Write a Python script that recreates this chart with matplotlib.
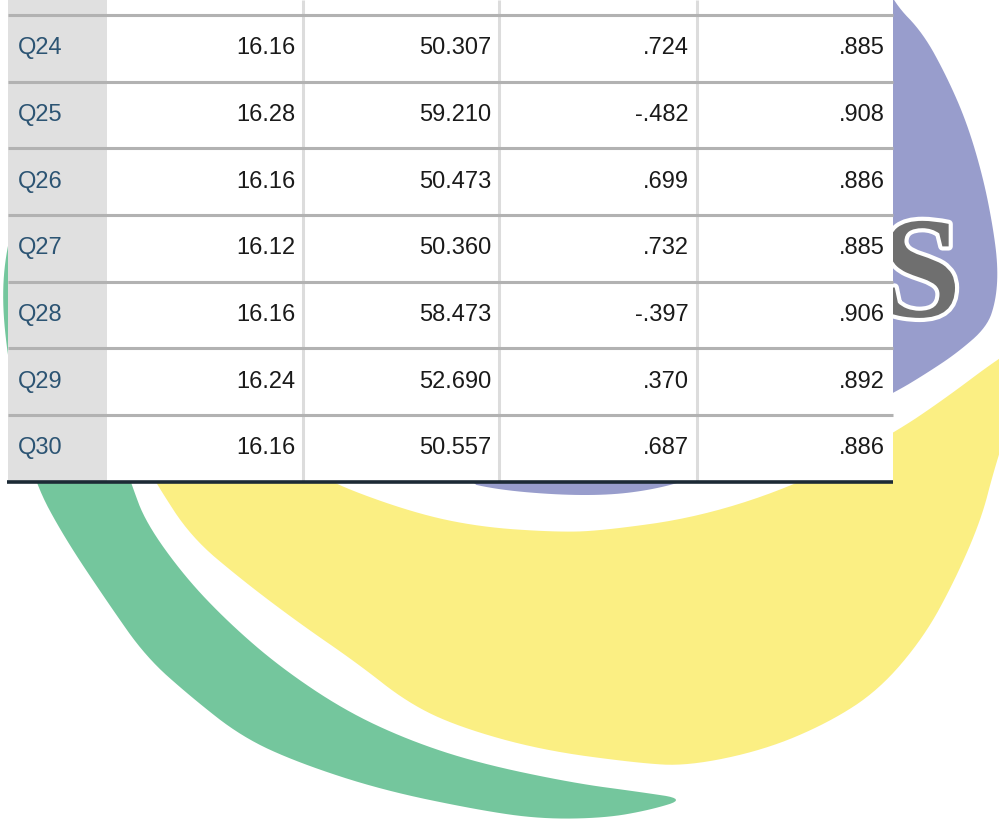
import matplotlib
matplotlib.use("Agg")
import matplotlib.pyplot as plt
from matplotlib.patches import Polygon, Rectangle
import matplotlib.patheffects as pe
import numpy as np

# ---- data ----
rows = ["Q24", "Q25", "Q26", "Q27", "Q28", "Q29", "Q30"]
col_mean = [16.16, 16.28, 16.16, 16.12, 16.16, 16.24, 16.16]
col_var = [50.307, 59.210, 50.473, 50.360, 58.473, 52.690, 50.557]
col_corr = [.724, -.482, .699, .732, -.397, .370, .687]
col_alpha = [.885, .908, .886, .885, .906, .892, .886]

def fmt_trim(v):
    s = f"{v:.3f}"
    return s.replace("0.", ".", 1)

columns = [
    [f"{v:.2f}" for v in col_mean],
    [f"{v:.3f}" for v in col_var],
    [fmt_trim(v) for v in col_corr],
    [fmt_trim(v) for v in col_alpha],
]

# ---- layout ----
W, H = 999, 822
fig = plt.figure(figsize=(W / 100, H / 100), dpi=100)
ax = fig.add_axes([0, 0, 1, 1])
ax.set_xlim(0, W)
ax.set_ylim(H, 0)
ax.axis("off")

def smooth(pts, iters=3):
    p = np.asarray(pts, float)
    for _ in range(iters):
        q = np.roll(p, -1, axis=0)
        a = 0.75 * p + 0.25 * q
        b = 0.25 * p + 0.75 * q
        p = np.empty((2 * len(a), 2))
        p[0::2] = a
        p[1::2] = b
    return p

# background logo shapes (decoration)
purple = [(880, -30), (894, 3), (923, 33), (947, 77), (967, 123), (983, 177), (993, 227),
          (998, 267), (996, 300), (987, 327), (957, 353), (927, 373), (894, 393),
          (800, 440), (686, 481), (650, 490), (610, 495), (560, 495), (500, 490),
          (458, 481), (450, 300), (700, -30)]
yellow = [(150, 470), (156, 483), (191, 537), (242, 580), (299, 623), (357, 663), (408, 703),
          (459, 727), (541, 750), (637, 763), (688, 766), (764, 750), (828, 723), (879, 690),
          (924, 637), (955, 580), (981, 520), (994, 470), (1010, 420), (1030, 340),
          (999, 358), (943, 400), (894, 433), (802, 483), (700, 517), (600, 531), (554, 532),
          (480, 527), (414, 513), (331, 483), (320, 470)]
green = [(60, 150), (20, 200), (6, 250), (2, 300), (8, 360), (20, 420), (35, 483), (64, 537),
         (108, 603), (146, 657), (191, 697), (242, 737), (299, 763), (382, 790), (478, 810),
         (541, 819), (605, 818), (650, 810), (686, 799), (640, 792), (573, 783), (478, 763),
         (408, 740), (344, 710), (280, 667), (229, 623), (185, 577), (146, 523), (131, 483),
         (110, 420), (95, 350), (90, 280), (95, 200), (110, 150)]
ax.add_patch(Polygon(smooth(purple), closed=True, facecolor="#989dcc", edgecolor="none", zorder=1))
ax.add_patch(Polygon(smooth(yellow), closed=True, facecolor="#fbef83", edgecolor="none", zorder=1))
ax.add_patch(Polygon(smooth(green), closed=True, facecolor="#74c69d", edgecolor="none", zorder=1))
ax.text(921, 282, "S", fontsize=104, fontweight="bold", family="Liberation Serif",
        color="#6f6f6f", ha="center", va="center", zorder=2,
        path_effects=[pe.withStroke(linewidth=6, foreground="white")])

# table geometry
x_left, x_hdr, x_right = 8, 107, 893
col_edges = [107, 303, 499, 697, 893]
top_line = 15
row_h = 66.67
n = len(rows)
bottom = top_line + row_h * n

ax.add_patch(Rectangle((x_left, 0), x_right - x_left, bottom, facecolor="white",
                       edgecolor="none", zorder=3))
ax.add_patch(Rectangle((x_left, 0), x_hdr - x_left, bottom, facecolor="#e0e0e0",
                       edgecolor="none", zorder=3))

for xe in col_edges[1:-1]:
    ax.plot([xe, xe], [0, bottom], color="#dcdcdc", lw=2.2, zorder=4, solid_capstyle="butt")

for k in range(n):
    y = top_line + row_h * k
    ax.plot([x_left, x_right], [y, y], color="#b2b2b2", lw=2.2, zorder=5, solid_capstyle="butt")
ax.plot([x_left - 1, x_right], [bottom, bottom], color="#1c2a35", lw=2.6, zorder=5,
        solid_capstyle="butt")

font = dict(family=["Liberation Sans", "DejaVu Sans"], fontsize=17)
for i, lab in enumerate(rows):
    yc = top_line + row_h * (i + 0.5)
    ax.text(x_left + 10, yc, lab, color="#2c5473", ha="left", va="center", zorder=6, **font)
    for j, col in enumerate(columns):
        ax.text(col_edges[j + 1] - 8, yc, col[i], color="#1a1a1a", ha="right",
                va="center", zorder=6, **font)

fig.savefig("out.png", dpi=100)
